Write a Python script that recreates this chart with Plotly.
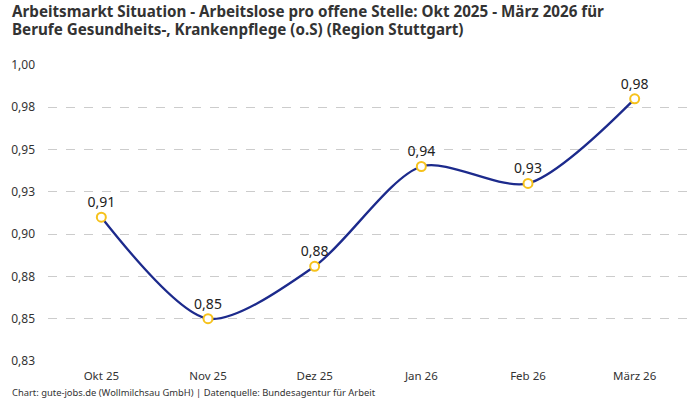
import plotly.graph_objects as go

# Arbeitslose pro offene Stelle, Region Stuttgart
months = ["Okt 25", "Nov 25", "Dez 25", "Jan 26", "Feb 26", "März 26"]
ratio = [0.91, 0.85, 0.881, 0.94, 0.93, 0.98]

y_ticks = [0.825, 0.85, 0.875, 0.90, 0.925, 0.95, 0.975, 1.00]
y_labels = ["0,83", "0,85", "0,88", "0,90", "0,93", "0,95", "0,98", "1,00"]

TITLE_1 = "Arbeitsmarkt Situation - Arbeitslose pro offene Stelle: Okt 2025 - März 2026 für"
TITLE_2 = "Berufe Gesundheits-, Krankenpflege (o.S) (Region Stuttgart)"
SOURCE = "Chart: gute-jobs.de (Wollmilchsau GmbH) | Datenquelle: Bundesagentur für Arbeit"

FONT = "Noto Sans, Roboto, sans-serif"
TEXT_COL = "#333333"

fig = go.Figure()
fig.add_trace(go.Scatter(
    x=months, y=ratio,
    mode="lines+markers+text",
    line=dict(color="#1c2a8c", width=2.3, shape="spline", smoothing=0.8),
    marker=dict(size=9, color="white", line=dict(color="#f6c21c", width=2)),
    texttemplate="%{y:.2f}",
    textposition="top center",
    textfont=dict(size=14, color="#222222", family=FONT),
    cliponaxis=False,
    showlegend=False,
))

title_font = dict(size=15.2, color=TEXT_COL, family=FONT)
fig.update_layout(
    width=700, height=400,
    margin=dict(l=48, r=12, t=65, b=39),
    paper_bgcolor="white",
    plot_bgcolor="white",
    separators=",.",
    font=dict(family=FONT, color=TEXT_COL),
    xaxis=dict(showgrid=False, showline=False, zeroline=False, ticks="",
               tickfont=dict(size=11.5, color=TEXT_COL),
               range=[-0.5, 5.5], ticklabelstandoff=6),
    yaxis=dict(range=[0.825, 1.0], tickvals=y_ticks, ticktext=y_labels,
               showgrid=True, gridcolor="#cccccc", griddash="dash", gridwidth=1,
               zeroline=False, showline=False, ticks="",
               tickfont=dict(size=12, color=TEXT_COL), ticklabelstandoff=12),
    annotations=[
        dict(text="<b>" + TITLE_1 + "</b>", x=-0.059, xref="paper", xanchor="left",
             y=1.181, yref="paper", yanchor="middle", showarrow=False, font=title_font),
        dict(text="<b>" + TITLE_2 + "</b>", x=-0.059, xref="paper", xanchor="left",
             y=1.123, yref="paper", yanchor="middle", showarrow=False, font=title_font),
        dict(text=SOURCE, x=-0.059, xref="paper", xanchor="left",
             y=-0.108, yref="paper", yanchor="middle", showarrow=False,
             font=dict(size=9.4, color=TEXT_COL, family=FONT)),
    ],
)

# the browser's default 8px body margin would push the chart off the window
fig.write_html("out.html", config={"displayModeBar": False},
               post_script="document.body.style.margin='0';")
